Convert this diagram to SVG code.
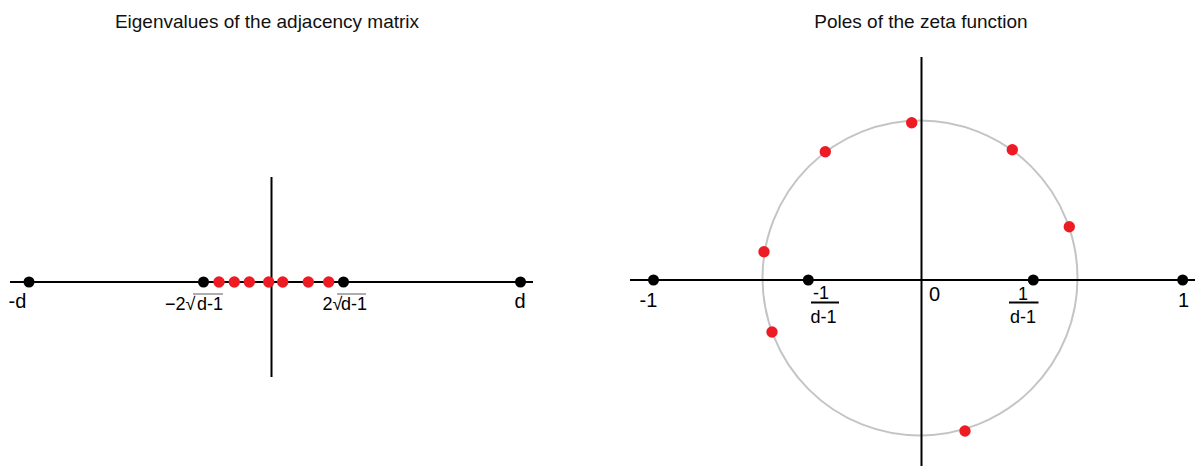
<svg xmlns="http://www.w3.org/2000/svg" width="1200" height="466" viewBox="0 0 1200 466">
<style>
.axis{stroke:#000;stroke-width:2;fill:none}
.circ{stroke:#c4c4c4;stroke-width:2;fill:none}
.bk{fill:#000}
.rd{fill:#ed1c24}
.title{font-family:"Liberation Sans",Arial,sans-serif;font-size:19px;fill:#111}
.lbl{font-family:"Liberation Sans",Arial,sans-serif;font-size:20px;fill:#000;text-anchor:middle}
.sq{font-family:"Liberation Sans",Arial,sans-serif;font-size:18px;fill:#000}
.fr{font-family:"Liberation Sans",Arial,sans-serif;font-size:18px;fill:#000;text-anchor:middle}
.bar{stroke:#000;stroke-width:2}
.ovl{stroke:#777;stroke-width:1.2}
</style>
<rect width="1200" height="466" fill="#fff"/>
<g id="left-plot">
  <text class="title" x="267" y="28" text-anchor="middle">Eigenvalues of the adjacency matrix</text>
  <g id="left-axes">
    <line class="axis" x1="10" y1="282" x2="533" y2="282"/>
    <line class="axis" x1="271.5" y1="177" x2="271.5" y2="377"/>
  </g>
  <g id="left-black-dots">
    <circle class="bk" cx="29" cy="282" r="5.5"/>
    <circle class="bk" cx="203.5" cy="282" r="5.5"/>
    <circle class="bk" cx="343.5" cy="282" r="5.5"/>
    <circle class="bk" cx="520.5" cy="282" r="5.5"/>
  </g>
  <g id="left-red-dots">
    <circle class="rd" cx="219" cy="282" r="5.7"/>
    <circle class="rd" cx="234.3" cy="282" r="5.7"/>
    <circle class="rd" cx="249.3" cy="282" r="5.7"/>
    <circle class="rd" cx="268.7" cy="282" r="5.7"/>
    <circle class="rd" cx="282.7" cy="282" r="5.7"/>
    <circle class="rd" cx="308.3" cy="282" r="5.7"/>
    <circle class="rd" cx="328.7" cy="282" r="5.7"/>
  </g>
  <g id="left-labels">
    <text class="lbl" x="17.5" y="308">-d</text>
    <text class="lbl" x="520" y="308">d</text>
    <text class="sq" x="165" y="310">−2√</text>
    <text class="sq" x="197" y="310">d-1</text>
    <line class="ovl" x1="193" y1="294" x2="223" y2="294"/>
    <text class="sq" x="322.5" y="310">2√</text>
    <text class="sq" x="341" y="310">d-1</text>
    <line class="ovl" x1="337" y1="294" x2="366" y2="294"/>
  </g>
</g>
<g id="right-plot">
  <text class="title" x="921" y="28" text-anchor="middle">Poles of the zeta function</text>
  <circle id="unit-circle" class="circ" cx="920" cy="278" r="157.5"/>
  <g id="right-axes">
    <line class="axis" x1="630" y1="280" x2="1195" y2="280"/>
    <line class="axis" x1="921.5" y1="57" x2="921.5" y2="466"/>
  </g>
  <g id="right-black-dots">
    <circle class="bk" cx="653.5" cy="280" r="5.5"/>
    <circle class="bk" cx="808.3" cy="280" r="5.5"/>
    <circle class="bk" cx="1033.3" cy="280" r="5.5"/>
    <circle class="bk" cx="1182.7" cy="280" r="5.5"/>
  </g>
  <g id="right-red-dots">
    <circle class="rd" cx="911.7" cy="122.7" r="5.7"/>
    <circle class="rd" cx="825.3" cy="151.7" r="5.7"/>
    <circle class="rd" cx="1012.3" cy="149.7" r="5.7"/>
    <circle class="rd" cx="1069.3" cy="226.7" r="5.7"/>
    <circle class="rd" cx="764" cy="251.7" r="5.7"/>
    <circle class="rd" cx="772" cy="332" r="5.7"/>
    <circle class="rd" cx="965" cy="431" r="5.7"/>
  </g>
  <g id="right-labels">
    <text class="lbl" x="648.5" y="307">-1</text>
    <text class="lbl" x="1183.5" y="307">1</text>
    <text class="lbl" x="934.5" y="301">0</text>
    <text class="fr" x="821" y="298.5">-1</text>
    <line class="bar" x1="811" y1="302.5" x2="839" y2="302.5"/>
    <text class="fr" x="823.5" y="323">d-1</text>
    <text class="fr" x="1023" y="299.5">1</text>
    <line class="bar" x1="1009" y1="302.5" x2="1038.5" y2="302.5"/>
    <text class="fr" x="1023" y="323">d-1</text>
  </g>
</g>
</svg>
